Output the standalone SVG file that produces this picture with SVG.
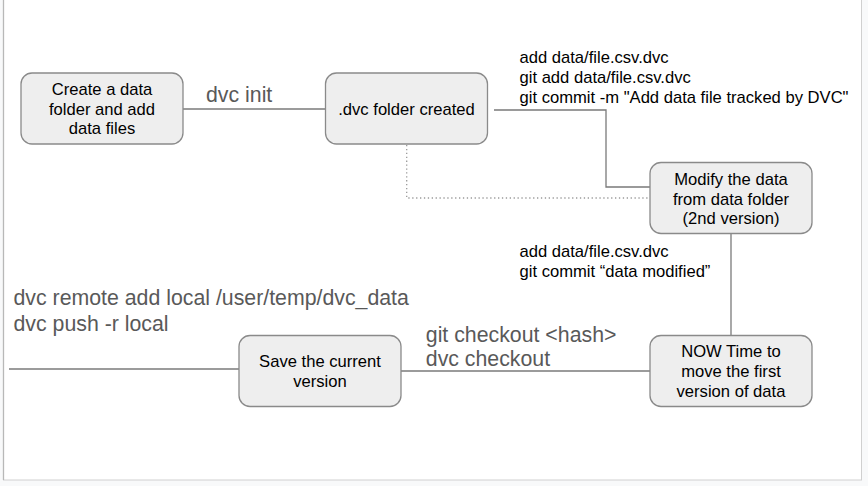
<svg xmlns="http://www.w3.org/2000/svg" width="868" height="486" viewBox="0 0 868 486">
<style>
.bg{fill:#f8f9fa}
.node rect{fill:#eeeeee;stroke:#8a8a8a;stroke-width:1.3}
.node text{font-family:"Liberation Sans",Arial,sans-serif;font-size:16.6px;fill:#000;text-anchor:middle}
.lbl{font-family:"Liberation Sans",Arial,sans-serif;font-size:16.6px;fill:#000}
.big{font-family:"Liberation Sans",Arial,sans-serif;font-size:21.3px;fill:#595959}
.conn{fill:none;stroke:#7a7a7a;stroke-width:1.3}
.dot{fill:none;stroke:#9a9a9a;stroke-width:1.3;stroke-dasharray:1.3 2.6}
</style>
<rect class="bg" x="0" y="0" width="868" height="486"/>
<rect x="3.5" y="-1" width="858" height="481" fill="#ffffff" stroke="#d0d0d0" stroke-width="1"/>
<line x1="3.5" y1="0" x2="3.5" y2="480" stroke="#b8b8b8" stroke-width="1.3"/>
<g id="connectors">
<path class="conn" d="M183 109 H325"/>
<path class="conn" d="M494 110 H606 V187 H650"/>
<path class="dot" d="M406.7 145 V198 H650"/>
<path class="conn" d="M731 233 V335"/>
<path class="conn" d="M401 371 H650"/>
<path class="conn" d="M9 369 H239"/>
</g>
<g id="labels">
<text class="big" x="206" y="102">dvc init</text>
<text class="lbl" x="519.5" y="62.7">add data/file.csv.dvc</text>
<text class="lbl" x="519.5" y="82.7">git add data/file.csv.dvc</text>
<text class="lbl" x="519.5" y="102.7">git commit -m "Add data file tracked by DVC"</text>
<text class="lbl" x="519.5" y="256.7">add data/file.csv.dvc</text>
<text class="lbl" x="519.5" y="276.5">git commit “data modified”</text>
<text class="big" x="13.5" y="305">dvc remote add local /user/temp/dvc_data</text>
<text class="big" x="13.5" y="330.5">dvc push -r local</text>
<text class="big" x="425.8" y="342">git checkout &lt;hash&gt;</text>
<text class="big" x="425.8" y="366">dvc checkout</text>
</g>
<g id="node-create" class="node">
<rect x="21" y="73" width="162" height="71" rx="11"/>
<text x="102" y="95">Create a data</text>
<text x="102" y="114.7">folder and add</text>
<text x="102" y="134">data files</text>
</g>
<g id="node-dvc" class="node">
<rect x="325.5" y="73" width="162" height="71" rx="11"/>
<text x="406.5" y="115">.dvc folder created</text>
</g>
<g id="node-modify" class="node">
<rect x="650" y="162.5" width="162" height="71" rx="11"/>
<text x="731" y="185">Modify the data</text>
<text x="731" y="204.5">from data folder</text>
<text x="731" y="224">(2nd version)</text>
</g>
<g id="node-save" class="node">
<rect x="239" y="335.5" width="162" height="71" rx="11"/>
<text x="320" y="366.7">Save the current</text>
<text x="320" y="386.7">version</text>
</g>
<g id="node-now" class="node">
<rect x="650" y="335.5" width="162" height="71" rx="11"/>
<text x="731" y="356.7">NOW Time to</text>
<text x="731" y="376.7">move the first</text>
<text x="731" y="396.7">version of data</text>
</g>
</svg>
